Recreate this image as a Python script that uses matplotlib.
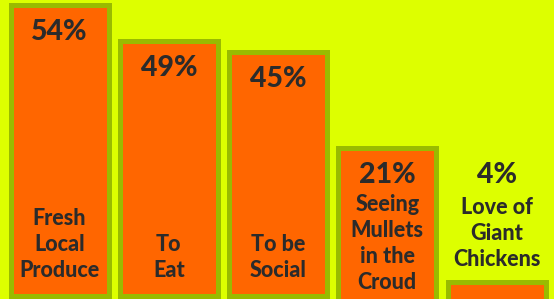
import matplotlib
matplotlib.use("Agg")
import matplotlib.pyplot as plt

# ---- data ----
percent_labels = ["54%", "49%", "45%", "21%", "4%"]
categories = ["Fresh\nLocal\nProduce", "To\nEat", "To be\nSocial",
              "Seeing\nMullets\nin the\nCroud", "Love of\nGiant\nChickens"]
values = [54, 49, 45, 21, 4]
# visual bar tops as drawn in the infographic (not strictly proportional)
bar_tops = [54.0, 47.55, 45.35, 27.7, 3.2]
bar_bottoms = [0.46, 0.46, 0.46, -1.0, -1.0]

# ---- style ----
BG = "#DDFF00"
EDGE = "#99BB00"
FACE = "#FF6600"
TXT = "#2B2B2B"
W, H, DPI = 554, 299, 100
YMAX = 55.0

fig = plt.figure(figsize=(W / DPI, H / DPI), dpi=DPI, facecolor=BG)
ax = fig.add_axes([0, 0, 1, 1])
ax.set_facecolor(BG)
ax.set_xlim(-0.545, 4.526)
ax.set_ylim(0, YMAX)
ax.axis("off")

x = list(range(len(values)))
heights = [t - b for t, b in zip(bar_tops, bar_bottoms)]
ax.bar(x, heights, bottom=bar_bottoms, width=0.897, color=FACE,
       edgecolor=EDGE, linewidth=3.6, zorder=2)

px_per_unit = H / YMAX


def top_px(yval):
    return H - yval * px_per_unit


def px_to_y(px):
    return (H - px) / px_per_unit


FONT = ["Lato", "DejaVu Sans"]
LINE = 25.0  # px between lines
for i, (pl, cat, top) in enumerate(zip(percent_labels, categories, bar_tops)):
    n = cat.count("\n") + 1
    tpx = top_px(top)
    if top > 10:
        pct_base = tpx + 35
        first_base = max(pct_base + 31, 277 - LINE * (n - 1))
        last_base = first_base + LINE * (n - 1)
    else:
        last_base = tpx - 15.5
        first_base = last_base - LINE * (n - 1)
        pct_base = first_base - 33
    ax.text(i, px_to_y(pct_base), pl, ha="center", va="baseline",
            fontsize=20.5, fontweight="black", color=TXT, family=FONT, zorder=3)
    ax.text(i, px_to_y(last_base), cat, ha="center", va="baseline",
            multialignment="center", fontsize=15.5, fontweight="black",
            color=TXT, family=FONT, linespacing=1.3, zorder=3)

fig.savefig("out.png", dpi=DPI, facecolor=BG)
